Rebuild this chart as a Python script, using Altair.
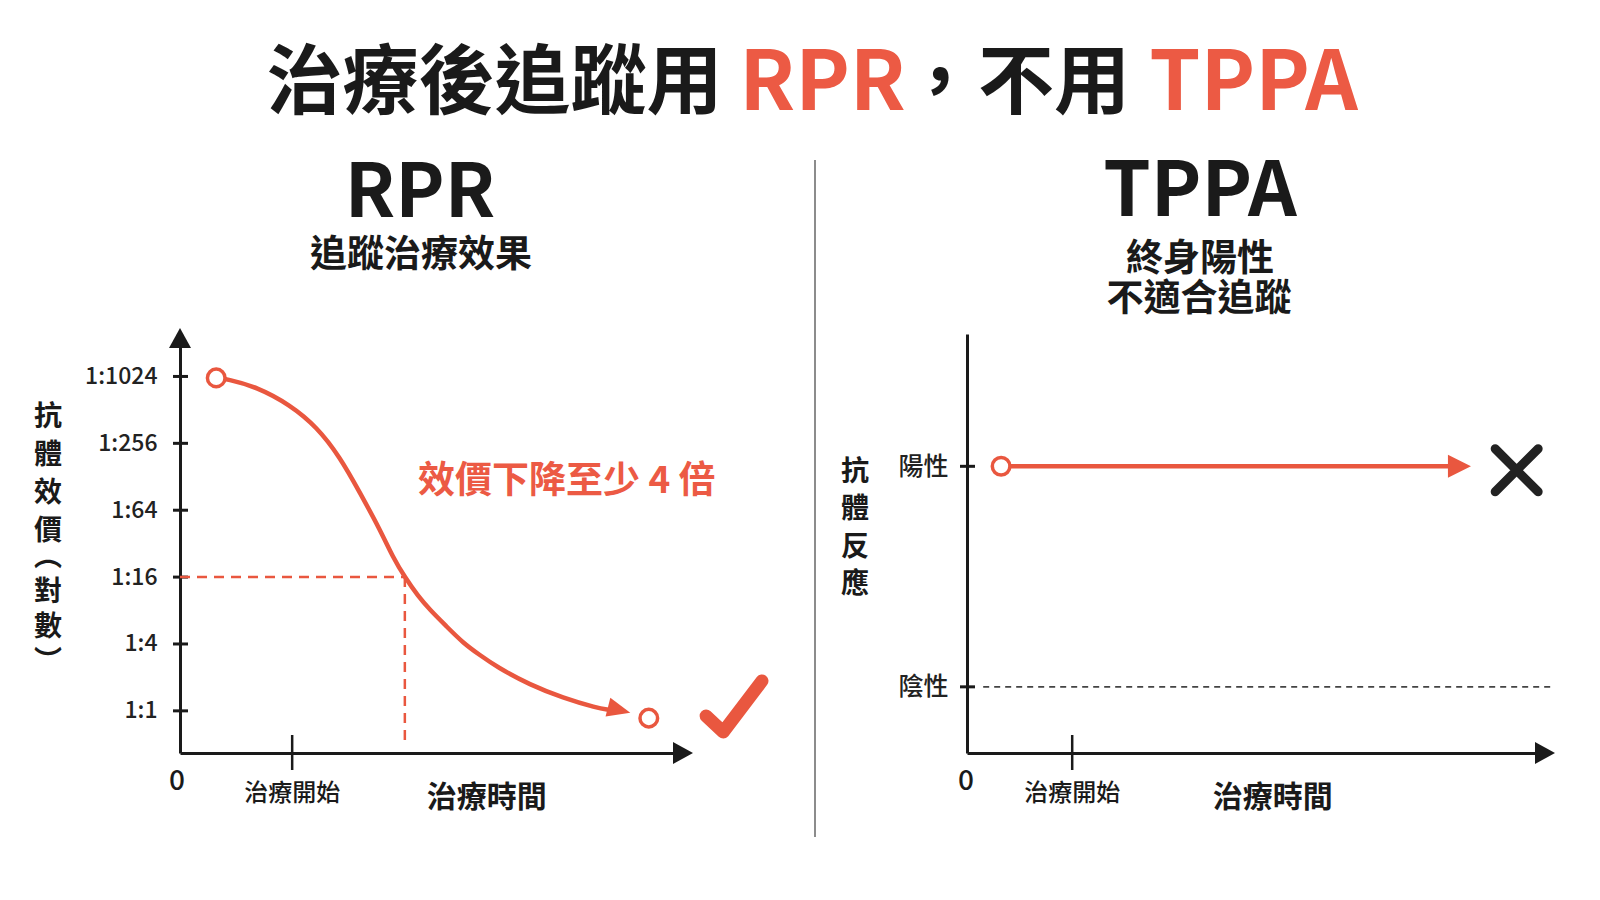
import altair as alt
import pandas as pd

FONT = "Noto Sans CJK TC"
RED = "#E9573F"
RED_TEXT = "#EC5A44"
INK = "#1A1A1A"
BG = "#FFFFFF"

# ---------------- data ----------------
# Left panel: RPR titer over treatment time (log2 titer scale)
rpr_time = [0.72, 0.93, 1.53, 2.19, 2.72, 3.18, 3.58, 3.98, 4.24, 4.47, 4.73, 4.97, 5.29,
            5.63, 5.96, 6.30, 6.96, 7.61, 8.29, 8.53]
rpr_titer = [994, 973, 824, 568, 360, 193, 91.6, 42.5, 23.8, 16, 10.8, 8.1, 5.81,
             4.08, 3.18, 2.48, 1.71, 1.31, 1.06, 1.02]
rpr_tick_values = [1, 4, 16, 64, 256, 1024]
rpr_start = {"t": 0.72, "v": 994}
rpr_end = {"t": 9.32, "v": 0.86}
rpr_arrow = {"t": 8.73, "v": 1.02}
rpr_cut_titer = 16
rpr_cut_time = 4.47
rpr_treat_time = 2.23
check_time = [10.46, 10.80, 11.57]
check_titer = [0.90, 0.645, 1.86]

# Right panel: TPPA reaction over treatment time
tppa_level_values = [0, 1]
tppa_level_labels = ["陰性", "陽性"]
tppa_line_time = [0.59, 8.36]
tppa_arrow_time = 8.52
tppa_neg_time = [0.28, 10.09]
tppa_treat_time = 1.82
tppa_cross = {"t": 9.51, "y": 0.982}

# ---------------- scales ----------------
LX = alt.Scale(domain=[0, 10], range=[172, 675], nice=False, zero=False)
LY = alt.Scale(type="log", base=2, domain=[0.4175, 2180], range=[745, 332], nice=False)
RX = alt.Scale(domain=[0, 10], range=[959, 1537], nice=False, zero=False)
RY = alt.Scale(domain=[-0.30, 1.60], range=[745, 326], nice=False, zero=False)

AY_L = alt.Axis(orient="left", offset=-172, values=rpr_tick_values, labelExpr="'1:' + datum.value",
                ticks=False, tickSize=0, domain=True, domainColor=INK, domainWidth=3, grid=False,
                labelFont=FONT, labelFontSize=23, labelFontWeight=500, labelColor="#222", labelPadding=23,
                labelFlush=False, labelOverlap=False, title=None)
AX_L = alt.Axis(orient="bottom", offset=-139, labels=False, ticks=False, tickSize=0, domain=True,
                domainColor=INK, domainWidth=3, grid=False, title=None)
AY_R = alt.Axis(orient="left", offset=-959, values=tppa_level_values,
                labelExpr="datum.value == 1 ? '" + tppa_level_labels[1] + "' : '" + tppa_level_labels[0] + "'",
                ticks=False, tickSize=0, domain=True, domainColor=INK, domainWidth=3, grid=False,
                labelFont=FONT, labelFontSize=25, labelFontWeight=500, labelColor="#222", labelPadding=19,
                labelFlush=False, labelOverlap=False, title=None)
AX_R = alt.Axis(orient="bottom", offset=-139, labels=False, ticks=False, tickSize=0, domain=True,
                domainColor=INK, domainWidth=3, grid=False, title=None)

ARROW_CURVE = "M1,0L-1,-0.85L-1,0.85Z"
ARROW_RIGHT = "M1,0L-1,-1L-1,1Z"
AXIS_UP = "M0,-1L-1.1,1L1.1,1Z"
AXIS_RIGHT = "M1,0L-1,-1.1L-1,1.1Z"
CROSS = "M-1,-1L1,1M1,-1L-1,1"

ONE = pd.DataFrame({"a": [0]})


def lx(field="t"):
    return alt.X(f"{field}:Q", scale=LX, axis=None)


def ly(field="v"):
    return alt.Y(f"{field}:Q", scale=LY, axis=None)


def rx(field="t"):
    return alt.X(f"{field}:Q", scale=RX, axis=None)


def ry(field="y"):
    return alt.Y(f"{field}:Q", scale=RY, axis=None)


def label(text, x, y, size, color=INK, weight="bold", align="center", **kw):
    return alt.Chart(ONE).mark_text(text=text, font=FONT, fontSize=size, fontWeight=weight,
                                    color=color, align=align, baseline="middle", **kw).encode(
        x=alt.value(x), y=alt.value(y))


layers = []

# ---------- main title ----------
layers.append(label("治療後追蹤用", 486.5, 77, 76))
layers.append(label("RPR", 814.5, 77, 82, color=RED_TEXT))
layers.append(label("，不用", 894, 77, 76, align="left"))
layers.append(label("TPPA", 1245.5, 77, 82, color=RED_TEXT))

# ---------- panel headings ----------
layers.append(label("RPR", 412, 187, 74))
layers.append(label("追蹤治療效果", 413, 248, 37))
layers.append(label("TPPA", 1192, 185, 76))
layers.append(label("終身陽性", 1192, 252, 37))
layers.append(label("不適合追蹤", 1191, 292, 37))

# divider
layers.append(alt.Chart(ONE).mark_rule(color="#8C8C8C", strokeWidth=2).encode(
    x=alt.value(807), y=alt.value(152), y2=alt.value(829)))

# ================= LEFT PANEL (RPR) =================
# y ticks + y axis
layers.append(alt.Chart(pd.DataFrame({"v": rpr_tick_values})).mark_rule(color=INK, strokeWidth=3).encode(
    y=alt.Y("v:Q", scale=LY, axis=AY_L), x=alt.value(165), x2=alt.value(180)))
# x tick (treatment start) + x axis
layers.append(alt.Chart(pd.DataFrame({"t": [rpr_treat_time]})).mark_rule(color=INK, strokeWidth=2.5).encode(
    x=alt.X("t:Q", scale=LX, axis=AX_L), y=alt.value(727), y2=alt.value(762)))
# axis arrowheads
layers.append(alt.Chart(pd.DataFrame({"t": [0], "v": [2277]})).mark_point(
    shape=AXIS_UP, size=400, filled=True, color=INK, opacity=1, strokeWidth=0).encode(x=lx(), y=ly()))
layers.append(alt.Chart(pd.DataFrame({"t": [10], "v": [0.4175]})).mark_point(
    shape=AXIS_RIGHT, size=400, filled=True, color=INK, opacity=1, strokeWidth=0).encode(x=lx(), y=ly()))

# dashed guides at 1:16
layers.append(alt.Chart(pd.DataFrame({"t": [0], "t2": [rpr_cut_time], "v": [rpr_cut_titer]})).mark_rule(
    color=RED, strokeWidth=2.5, strokeDash=[10, 7]).encode(x=lx(), x2="t2:Q", y=ly()))
layers.append(alt.Chart(pd.DataFrame({"t": [rpr_cut_time], "v": [rpr_cut_titer], "v2": [0.52]})).mark_rule(
    color=RED, strokeWidth=2.5, strokeDash=[10, 7]).encode(x=lx(), y=ly(), y2="v2:Q"))

# titer curve
curve_df = pd.DataFrame({"t": rpr_time, "v": rpr_titer})
layers.append(alt.Chart(curve_df).mark_line(color=RED, strokeWidth=4.5, interpolate="basis",
                                            strokeCap="round").encode(x=lx(), y=ly()))
layers.append(alt.Chart(pd.DataFrame([rpr_arrow])).mark_point(
    shape=ARROW_CURVE, size=530, angle=14, filled=True, color=RED, opacity=1, strokeWidth=0).encode(x=lx(), y=ly()))
layers.append(alt.Chart(pd.DataFrame([rpr_start, rpr_end])).mark_point(
    shape="circle", size=310, filled=True, fill=BG, stroke=RED, strokeWidth=3.5, opacity=1).encode(x=lx(), y=ly()))

# check mark
layers.append(alt.Chart(pd.DataFrame({"t": check_time, "v": check_titer})).mark_line(
    color=RED, strokeWidth=13, strokeCap="round", strokeJoin="round").encode(x=lx(), y=ly()))

# annotation
layers.append(alt.Chart(pd.DataFrame({"t": [7.69], "v": [115]})).mark_text(
    text="效價下降至少 4 倍", font=FONT, fontSize=37, fontWeight="bold", color=RED_TEXT,
    align="center", baseline="middle").encode(x=lx(), y=ly()))

# x labels
layers.append(alt.Chart(pd.DataFrame({"t": [0]})).mark_text(
    text="0", font=FONT, fontSize=28, fontWeight=500, color=INK, align="center", baseline="middle", dx=-3).encode(
    x=lx(), y=alt.value(774)))
layers.append(alt.Chart(pd.DataFrame({"t": [rpr_treat_time]})).mark_text(
    text="治療開始", font=FONT, fontSize=24, fontWeight=500, color=INK, align="center", baseline="middle").encode(
    x=lx(), y=alt.value(786)))
layers.append(alt.Chart(pd.DataFrame({"t": [6.10]})).mark_text(
    text="治療時間", font=FONT, fontSize=30, fontWeight="bold", color=INK, align="center", baseline="middle").encode(
    x=lx(), y=alt.value(790)))

# vertical y title (first line sits at y)
layers.append(label(["抗", "體", "效", "價"], 40, 410, 28, lineHeight=38))
layers.append(label(["︵", "對", "數", "︶"], 40, 550, 28, lineHeight=35))

# ================= RIGHT PANEL (TPPA) =================
layers.append(alt.Chart(pd.DataFrame({"y": tppa_level_values})).mark_rule(color=INK, strokeWidth=3).encode(
    y=alt.Y("y:Q", scale=RY, axis=AY_R), x=alt.value(952), x2=alt.value(967)))
layers.append(alt.Chart(pd.DataFrame({"t": [tppa_treat_time]})).mark_rule(color=INK, strokeWidth=2.5).encode(
    x=alt.X("t:Q", scale=RX, axis=AX_R), y=alt.value(727), y2=alt.value(762)))
layers.append(alt.Chart(pd.DataFrame({"t": [10], "y": [-0.30]})).mark_point(
    shape=AXIS_RIGHT, size=400, filled=True, color=INK, opacity=1, strokeWidth=0).encode(x=rx(), y=ry()))

# negative cutoff dashed line
layers.append(alt.Chart(pd.DataFrame({"t": [tppa_neg_time[0]], "t2": [tppa_neg_time[1]], "y": [0]})).mark_rule(
    color="#444444", strokeWidth=1.6, strokeDash=[6, 5]).encode(x=rx(), x2="t2:Q", y=ry()))

# positive line
layers.append(alt.Chart(pd.DataFrame({"t": tppa_line_time, "y": [1, 1]})).mark_line(
    color=RED, strokeWidth=4.5).encode(x=rx(), y=ry()))
layers.append(alt.Chart(pd.DataFrame({"t": [tppa_arrow_time], "y": [1]})).mark_point(
    shape=ARROW_RIGHT, size=529, filled=True, color=RED, opacity=1, strokeWidth=0).encode(x=rx(), y=ry()))
layers.append(alt.Chart(pd.DataFrame({"t": [tppa_line_time[0]], "y": [1]})).mark_point(
    shape="circle", size=310, filled=True, fill=BG, stroke=RED, strokeWidth=3.5, opacity=1).encode(x=rx(), y=ry()))

# cross mark
layers.append(alt.Chart(pd.DataFrame([tppa_cross])).mark_point(
    shape=CROSS, size=1849, filled=False, stroke="#222222", strokeWidth=9, strokeCap="round",
    opacity=1).encode(x=rx(), y=ry()))

# x labels
layers.append(alt.Chart(pd.DataFrame({"t": [0]})).mark_text(
    text="0", font=FONT, fontSize=28, fontWeight=500, color=INK, align="center", baseline="middle", dx=-1).encode(
    x=rx(), y=alt.value(774)))
layers.append(alt.Chart(pd.DataFrame({"t": [tppa_treat_time]})).mark_text(
    text="治療開始", font=FONT, fontSize=24, fontWeight=500, color=INK, align="center", baseline="middle").encode(
    x=rx(), y=alt.value(786)))
layers.append(alt.Chart(pd.DataFrame({"t": [5.29]})).mark_text(
    text="治療時間", font=FONT, fontSize=30, fontWeight="bold", color=INK, align="center", baseline="middle").encode(
    x=rx(), y=alt.value(790)))

layers.append(label(["抗", "體", "反", "應"], 847, 465, 28, lineHeight=37.3))

chart = alt.layer(*layers).resolve_scale(x="independent", y="independent").properties(
    width=1584, height=884, autosize=alt.AutoSizeParams(type="none"), padding=0, background=BG
).configure_view(strokeWidth=0)

chart.save("out.html", embed_options={"renderer": "svg", "actions": False})
